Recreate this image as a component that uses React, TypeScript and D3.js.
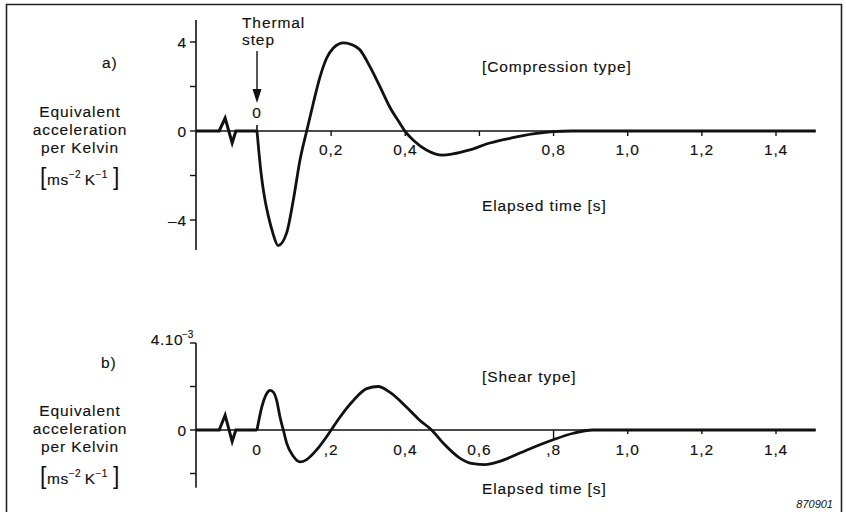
import React from "react";
import * as d3 from "d3";

// ---- Data ----
// Compression type (panel a), value in m s^-2 K^-1
const compT = [0, 0.011, 0.020, 0.031, 0.043, 0.057, 0.080, 0.098, 0.116, 0.134, 0.152, 0.170, 0.188, 0.206, 0.233, 0.251, 0.278, 0.305, 0.332, 0.358, 0.385, 0.40, 0.421, 0.457, 0.501, 0.528, 0.574, 0.628, 0.690, 0.744, 0.798, 0.85, 1.0, 1.2, 1.507];
const compV = [0, -1.89, -2.95, -3.85, -4.6, -5.15, -4.58, -3.1, -1.3, 0, 1.26, 2.43, 3.28, 3.73, 3.96, 3.91, 3.64, 2.88, 1.98, 1.08, 0.36, -0.03, -0.40, -0.85, -1.08, -1.03, -0.85, -0.54, -0.3, -0.13, -0.03, 0, 0, 0, 0];
// Pre-step wiggle (panel a)
const compPreT = [-0.164, -0.102, -0.086, -0.067, -0.057, 0];
const compPreV = [0, 0, 0.58, -0.54, 0, 0];

// Shear type (panel b), value in 1e-3 m s^-2 K^-1
const shearT = [0, 0.013, 0.026, 0.035, 0.044, 0.053, 0.062, 0.071, 0.080, 0.098, 0.116, 0.134, 0.161, 0.197, 0.224, 0.260, 0.296, 0.327, 0.358, 0.403, 0.439, 0.471, 0.502, 0.547, 0.583, 0.615, 0.655, 0.709, 0.763, 0.799, 0.853, 0.906, 1.0, 1.2, 1.507];
const shearV = [0, 1.06, 1.67, 1.82, 1.74, 1.36, 0.6, 0, -0.6, -1.21, -1.47, -1.36, -0.91, -0.08, 0.6, 1.36, 1.9, 2.0, 1.74, 1.06, 0.45, 0, -0.6, -1.29, -1.55, -1.59, -1.44, -1.06, -0.68, -0.45, -0.15, 0, 0, 0, 0];
const shearPreT = [-0.164, -0.102, -0.086, -0.067, -0.057, 0];
const shearPreV = [0, 0, 0.68, -0.53, 0, 0];

// Axes
const xMin = -0.164;
const xMax = 1.507;
const topXTicks = [0.2, 0.4, 0.6, 0.8, 1.0, 1.2, 1.4];
const topXLabels = ["0,2", "0,4", "", "0,8", "1,0", "1,2", "1,4"];
const botXTicks = [0, 0.2, 0.4, 0.6, 0.8, 1.0, 1.2, 1.4];
const botXLabels = ["0", ",2", "0,4", "0,6", ",8", "1,0", "1,2", "1,4"];
const topYTicks = [4, 2, 0, -2, -4];
const topYLabels = ["4", "", "0", "", "\u20134"];
const botYTicks = [4, 2, 0, -2];
const botYLabels = ["", "", "0", ""];
const topYRange = [-5.35, 4.99];
const botYRange = [-2.65, 4];

const FONT = "'Liberation Sans', Arial, Helvetica, sans-serif";
const INK = "#111";

export default function App() {
  const x = d3.scaleLinear().domain([0, 1.4]).range([257, 776]);
  const yTop = d3.scaleLinear().domain([-4, 4]).range([220, 42]);
  const yBot = d3.scaleLinear().domain([0, 4]).range([430, 343]);

  const mk = (ys: d3.ScaleLinear<number, number>, curve: d3.CurveFactory) =>
    d3
      .line<[number, number]>()
      .x((d) => x(d[0]))
      .y((d) => ys(d[1]))
      .curve(curve);

  const zip = (a: number[], b: number[]) => a.map((t, i) => [t, b[i]] as [number, number]);

  const topMain = mk(yTop, d3.curveMonotoneX)(zip(compT, compV)) || "";
  const topPre = mk(yTop, d3.curveLinear)(zip(compPreT, compPreV)) || "";
  const botMain = mk(yBot, d3.curveMonotoneX)(zip(shearT, shearV)) || "";
  const botPre = mk(yBot, d3.curveLinear)(zip(shearPreT, shearPreV)) || "";

  const axisX0 = x(xMin);
  const axisX1 = x(xMax);

  const txt = {
    fontFamily: FONT,
    fontSize: 15.5,
    fill: INK,
    letterSpacing: 0.9,
    stroke: INK,
    strokeWidth: 0.15,
  } as const;

  const ylabel = (dy: number) => (
    <g transform={`translate(0, ${dy})`}>
      <text x={80} y={117} textAnchor="middle" style={txt}>Equivalent</text>
      <text x={80} y={135} textAnchor="middle" style={txt}>acceleration</text>
      <text x={80} y={153} textAnchor="middle" style={txt}>per Kelvin</text>
      <text x={80} y={185} textAnchor="middle" style={{ ...txt, letterSpacing: 0.5 }}>
        <tspan fontSize={23} style={{ strokeWidth: 0 }}>[</tspan>
        <tspan fontSize={15.5}>ms</tspan>
        <tspan fontSize={10} dy={-7}>{"\u22122"}</tspan>
        <tspan fontSize={15.5} dy={7}>{"\u2009K"}</tspan>
        <tspan fontSize={10} dy={-7}>{"\u22121"}</tspan>
        <tspan fontSize={23} dy={7} style={{ strokeWidth: 0 }}>{"\u2009]"}</tspan>
      </text>
    </g>
  );

  return (
    <svg
      width={846}
      height={512}
      style={{ position: "absolute", left: 0, top: 0, background: "#fff" }}
    >
      {/* frame */}
      <path d="M6.5,520 V4.5 H841.5 V520" fill="none" stroke="#222" strokeWidth={1.6} />

      {/* ---------- Panel a ---------- */}
      <text x={102} y={68} style={txt}>a)</text>
      {ylabel(0)}

      {/* y axis */}
      <line x1={196} x2={196} y1={yTop(topYRange[1])} y2={yTop(topYRange[0])} stroke={INK} strokeWidth={1.6} />
      {topYTicks.map((v, i) => (
        <g key={"tyt" + i}>
          <line x1={190} x2={196} y1={yTop(v)} y2={yTop(v)} stroke={INK} strokeWidth={1.4} />
          {topYLabels[i] && (
            <text x={187} y={yTop(v)} dy="0.36em" textAnchor="end" style={txt}>
              {topYLabels[i]}
            </text>
          )}
        </g>
      ))}
      {/* x axis */}
      <line x1={axisX0} x2={axisX1} y1={yTop(0)} y2={yTop(0)} stroke={INK} strokeWidth={1.5} />
      {topXTicks.map((t, i) => (
        <g key={"txt" + i}>
          <line x1={x(t)} x2={x(t)} y1={yTop(0)} y2={yTop(0) + 5} stroke={INK} strokeWidth={1.4} />
          {topXLabels[i] && (
            <text x={x(t)} y={155} textAnchor="middle" style={txt}>{topXLabels[i]}</text>
          )}
        </g>
      ))}
      <line x1={x(0)} x2={x(0)} y1={yTop(0) - 6} y2={yTop(0)} stroke={INK} strokeWidth={1.6} />
      <text x={x(0)} y={118} textAnchor="middle" style={txt}>0</text>

      {/* thermal step */}
      <text x={242} y={28} style={txt}>Thermal</text>
      <text x={242} y={45} style={txt}>step</text>
      <line x1={x(0)} x2={x(0)} y1={51} y2={92} stroke={INK} strokeWidth={1.4} />
      <path d={`M${x(0) - 4.5},89 L${x(0) + 4.5},89 L${x(0)},103 Z`} fill={INK} />

      <text x={482} y={72} style={txt}>[Compression type]</text>
      <text x={482} y={211} style={txt}>Elapsed time [s]</text>

      <path d={topPre} fill="none" stroke={INK} strokeWidth={3} strokeLinejoin="miter" />
      <path d={topMain} fill="none" stroke={INK} strokeWidth={2.8} strokeLinejoin="round" />

      {/* ---------- Panel b ---------- */}
      <text x={101} y={368} style={txt}>b)</text>
      {ylabel(299)}

      <line x1={196} x2={196} y1={yBot(botYRange[1])} y2={yBot(botYRange[0])} stroke={INK} strokeWidth={1.6} />
      {botYTicks.map((v, i) => (
        <g key={"byt" + i}>
          <line x1={190} x2={196} y1={yBot(v)} y2={yBot(v)} stroke={INK} strokeWidth={1.4} />
          {botYLabels[i] && (
            <text x={187} y={yBot(v)} dy="0.36em" textAnchor="end" style={txt}>
              {botYLabels[i]}
            </text>
          )}
        </g>
      ))}
      <text x={183} y={345} textAnchor="end" style={{ ...txt, letterSpacing: 0.5 }}>4.10</text>
      <text x={182} y={338} style={{ ...txt, fontSize: 10, letterSpacing: 0 }}>{"\u22123"}</text>

      <line x1={axisX0} x2={axisX1} y1={yBot(0)} y2={yBot(0)} stroke={INK} strokeWidth={1.5} />
      {botXTicks.map((t, i) => (
        <g key={"bxt" + i}>
          {t >= 0.8 && (
            <line x1={x(t)} x2={x(t)} y1={yBot(0)} y2={yBot(0) + (t === 0.8 ? 10 : 4)} stroke={INK} strokeWidth={1.4} />
          )}
          <text x={x(t)} y={455} textAnchor="middle" style={txt}>{botXLabels[i]}</text>
        </g>
      ))}

      <text x={482} y={382} style={txt}>[Shear type]</text>
      <text x={482} y={494} style={txt}>Elapsed time [s]</text>

      <path d={botPre} fill="none" stroke={INK} strokeWidth={3} strokeLinejoin="miter" />
      <path d={botMain} fill="none" stroke={INK} strokeWidth={2.8} strokeLinejoin="round" />

      <text x={833} y={508} textAnchor="end" style={{ fontFamily: FONT, fontSize: 11, fontStyle: "italic", fill: INK }}>
        870901
      </text>
    </svg>
  );
}
